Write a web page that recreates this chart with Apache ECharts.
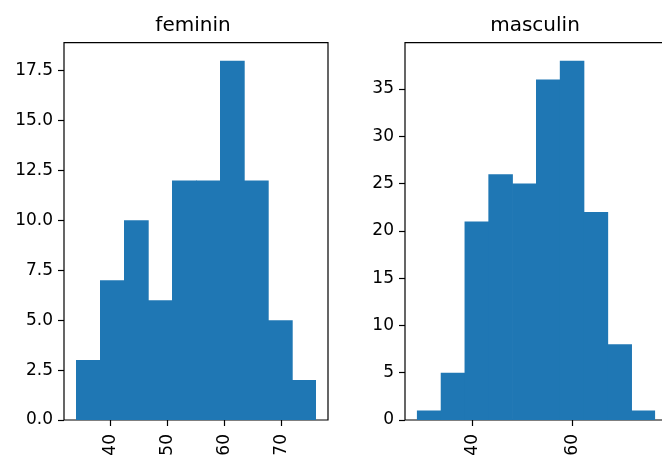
<!DOCTYPE html>
<html><head><meta charset="utf-8">
<script src="https://cdn.jsdelivr.net/npm/echarts@6/dist/echarts.min.js"></script>
<style>html,body{margin:0;padding:0;background:#fff}#c{width:662px;height:457px}</style>
</head><body><div id="c"></div>
<script>
var titles = ['feminin', 'masculin'];
var femEdges = [34, 38.2, 42.4, 46.6, 50.8, 55, 59.2, 63.4, 67.6, 71.8, 76];
var femCounts = [3, 7, 10, 6, 12, 12, 18, 12, 5, 2];
var mascEdges = [29, 33.74, 38.48, 43.22, 47.96, 52.7, 57.44, 62.18, 66.92, 71.66, 76.4];
var mascCounts = [1, 5, 21, 26, 25, 36, 38, 22, 8, 1];
var femXTicks = [40, 50, 60, 70];
var mascXTicks = [40, 60];
var femYTicks = [0, 2.5, 5, 7.5, 10, 12.5, 15, 17.5];
var mascYTicks = [0, 5, 10, 15, 20, 25, 30, 35];

function bins(edges, counts) {
  return counts.map(function (c, i) { return [edges[i], edges[i + 1], c]; });
}
function pad(edges) {
  var r = edges[edges.length - 1] - edges[0];
  return [edges[0] - 0.05 * r, edges[edges.length - 1] + 0.05 * r];
}
function ymax(counts) { return Math.max.apply(null, counts) * 1.05; }

var FONT = 'DejaVu Sans';
var fx = pad(femEdges), mx = pad(mascEdges);

function renderItem(params, api) {
  var p0 = api.coord([api.value(0), api.value(2)]);
  var p1 = api.coord([api.value(1), 0]);
  var last = params.dataIndex === params.dataInsideLength - 1;
  return {
    type: 'rect',
    shape: { x: p0[0], y: p0[1], width: p1[0] - p0[0] + (last ? 0 : 0.7), height: p1[1] - p0[1] },
    style: { fill: '#1f77b4' }
  };
}

function xAxis(idx, ext, ticks) {
  return {
    type: 'value', gridIndex: idx, min: ext[0], max: ext[1],
    axisLine: { show: false },
    splitLine: { show: false },
    axisTick: { show: true, inside: false, length: 6, lineStyle: { color: '#000', width: 1.2 }, customValues: ticks },
    axisLabel: { rotate: 90, margin: 14, color: '#000', fontSize: 17, fontFamily: FONT, customValues: ticks }
  };
}
function yAxis(idx, mx_, ticks, fmt) {
  return {
    type: 'value', gridIndex: idx, min: 0, max: mx_,
    axisLine: { show: false },
    splitLine: { show: false },
    axisTick: { show: true, inside: false, length: 6, lineStyle: { color: '#000', width: 1.2 }, customValues: ticks },
    axisLabel: { margin: 11, color: '#000', fontSize: 17, fontFamily: FONT, customValues: ticks, formatter: fmt }
  };
}

var chart = echarts.init(document.getElementById('c'), null, { renderer: 'canvas' });
chart.setOption({
  animation: false,
  backgroundColor: '#fff',
  title: [
    { text: titles[0], left: 193, top: 16, padding: 0, textAlign: 'center', textStyle: { fontFamily: FONT, fontSize: 20, fontWeight: 'normal', color: '#000' } },
    { text: titles[1], left: 535, top: 16, padding: 0, textAlign: 'center', textStyle: { fontFamily: FONT, fontSize: 20, fontWeight: 'normal', color: '#000' } }
  ],
  grid: [
    { left: 64, top: 42.7, width: 264, height: 377.3, containLabel: false, outerBoundsMode: 'none', show: true, borderColor: '#000', borderWidth: 1.2, backgroundColor: 'transparent' },
    { left: 405, top: 42.7, width: 262, height: 377.3, containLabel: false, outerBoundsMode: 'none', show: true, borderColor: '#000', borderWidth: 1.2, backgroundColor: 'transparent' }
  ],
  xAxis: [xAxis(0, fx, femXTicks), xAxis(1, mx, mascXTicks)],
  yAxis: [
    yAxis(0, ymax(femCounts), femYTicks, function (v) { return v.toFixed(1); }),
    yAxis(1, ymax(mascCounts), mascYTicks, function (v) { return String(v); })
  ],
  series: [
    { type: 'custom', xAxisIndex: 0, yAxisIndex: 0, renderItem: renderItem, encode: { x: [0, 1], y: 2 }, data: bins(femEdges, femCounts), clip: true },
    { type: 'custom', xAxisIndex: 1, yAxisIndex: 1, renderItem: renderItem, encode: { x: [0, 1], y: 2 }, data: bins(mascEdges, mascCounts), clip: true }
  ]
});
</script></body></html>
